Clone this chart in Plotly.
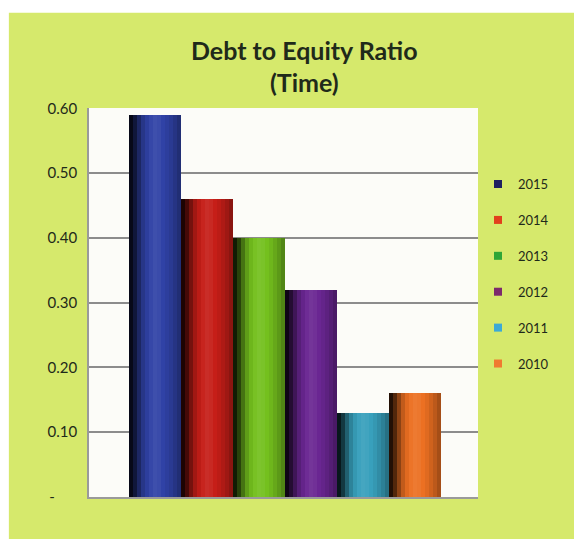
import plotly.graph_objects as go

# Debt-to-equity ratio by year (times)
years = ["2015", "2014", "2013", "2012", "2011", "2010"]
ratios = [0.59, 0.46, 0.40, 0.32, 0.13, 0.16]

# Axis tick values and labels (zero shown as an accounting dash)
tick_vals = [0.0, 0.1, 0.2, 0.3, 0.4, 0.5, 0.6]
tick_text = ["-\u2003\u2003", "0.10", "0.20", "0.30", "0.40", "0.50", "0.60"]

# Base colours of the cylinders and of the legend keys
bar_colors = [(48, 66, 166), (198, 30, 24), (116, 192, 30),
              (106, 38, 146), (56, 160, 188), (236, 112, 34)]
key_colors = ["#1e2060", "#e2401c", "#2ea636", "#7c2a6c", "#3caad6", "#f07a30"]

LIME = "#d6e96c"
TEXT = "#1f2a1a"
FONT = "Lato"


def shade(rgb, m):
    """Darken (m<1) or lighten (m>1) an rgb triple."""
    if m <= 1:
        r, g, b = (int(c * m) for c in rgb)
    else:
        k = m - 1
        r, g, b = (int(c + (255 - c) * k) for c in rgb)
    return f"rgb({r},{g},{b})"


# Brightness profile across a cylinder, left edge to right edge
profile = [0.15, 0.35, 0.6, 0.82, 0.95, 1.03, 1.07, 1.05, 1.0, 0.95, 0.88, 0.8, 0.7]
n_strips = len(profile)
strip_w = 1.0 / n_strips

x_pos = list(range(len(years)))

fig = go.Figure()

for k, m in enumerate(profile):
    fig.add_trace(go.Bar(
        x=x_pos,
        y=ratios,
        width=strip_w * 1.04,
        offset=-0.5 + k * strip_w,
        marker=dict(color=[shade(c, m) for c in bar_colors], line=dict(width=0)),
        showlegend=False,
        hoverinfo="skip",
    ))

# Legend keys
for i, yr in enumerate(years):
    fig.add_trace(go.Scatter(
        x=[None], y=[None], mode="markers", name=yr,
        legendgroup=yr,
        marker=dict(symbol="square", size=8, color=key_colors[i]),
    ))

# Lime panel behind the chart, white back wall inside the axes
fig.add_shape(type="rect", xref="paper", yref="paper",
              x0=-0.206, x1=1.26, y0=-0.12, y1=1.245,
              fillcolor=LIME, line=dict(width=0), layer="below")
fig.add_shape(type="rect", xref="x domain", yref="y domain",
              x0=0, x1=1, y0=0, y1=1,
              fillcolor="#fcfcf8", line=dict(width=0), layer="below")

fig.add_annotation(text="<b>Debt to Equity Ratio</b>", xref="paper", yref="paper",
                   x=0.555, y=1.149, yanchor="middle", showarrow=False,
                   font=dict(family=FONT, size=25, color=TEXT))
fig.add_annotation(text="<b>(Time)</b>", xref="paper", yref="paper",
                   x=0.555, y=1.067, yanchor="middle", showarrow=False,
                   font=dict(family=FONT, size=25, color=TEXT))

fig.update_layout(
    width=574, height=539,
    margin=dict(l=89, r=96, t=108, b=42),
    paper_bgcolor="white",
    plot_bgcolor="#fcfcf8",
    barmode="overlay",
    bargap=0,
    font=dict(family=FONT, color=TEXT),
    legend=dict(
        x=1.0, y=0.843, xanchor="left", yanchor="top",
        bgcolor="rgba(0,0,0,0)",
        font=dict(family=FONT, size=13, color=TEXT),
        tracegroupgap=16,
        itemwidth=30,
    ),
    xaxis=dict(
        range=[-1.27, 6.21],
        showticklabels=False, showgrid=False, zeroline=False,
        showline=True, linecolor="#9a9a9a", linewidth=1.5,
        fixedrange=True,
    ),
    yaxis=dict(
        range=[0, 0.6005],
        tickvals=tick_vals, ticktext=tick_text,
        tickfont=dict(family=FONT, size=15, color=TEXT),
        showgrid=True, gridcolor="#8c8c8c", gridwidth=1.5,
        zeroline=False,
        showline=True, linecolor="#9a9a9a", linewidth=1.5,
        ticks="", ticklabelstandoff=7,
        fixedrange=True,
    ),
)

fig.write_html("out.html")
